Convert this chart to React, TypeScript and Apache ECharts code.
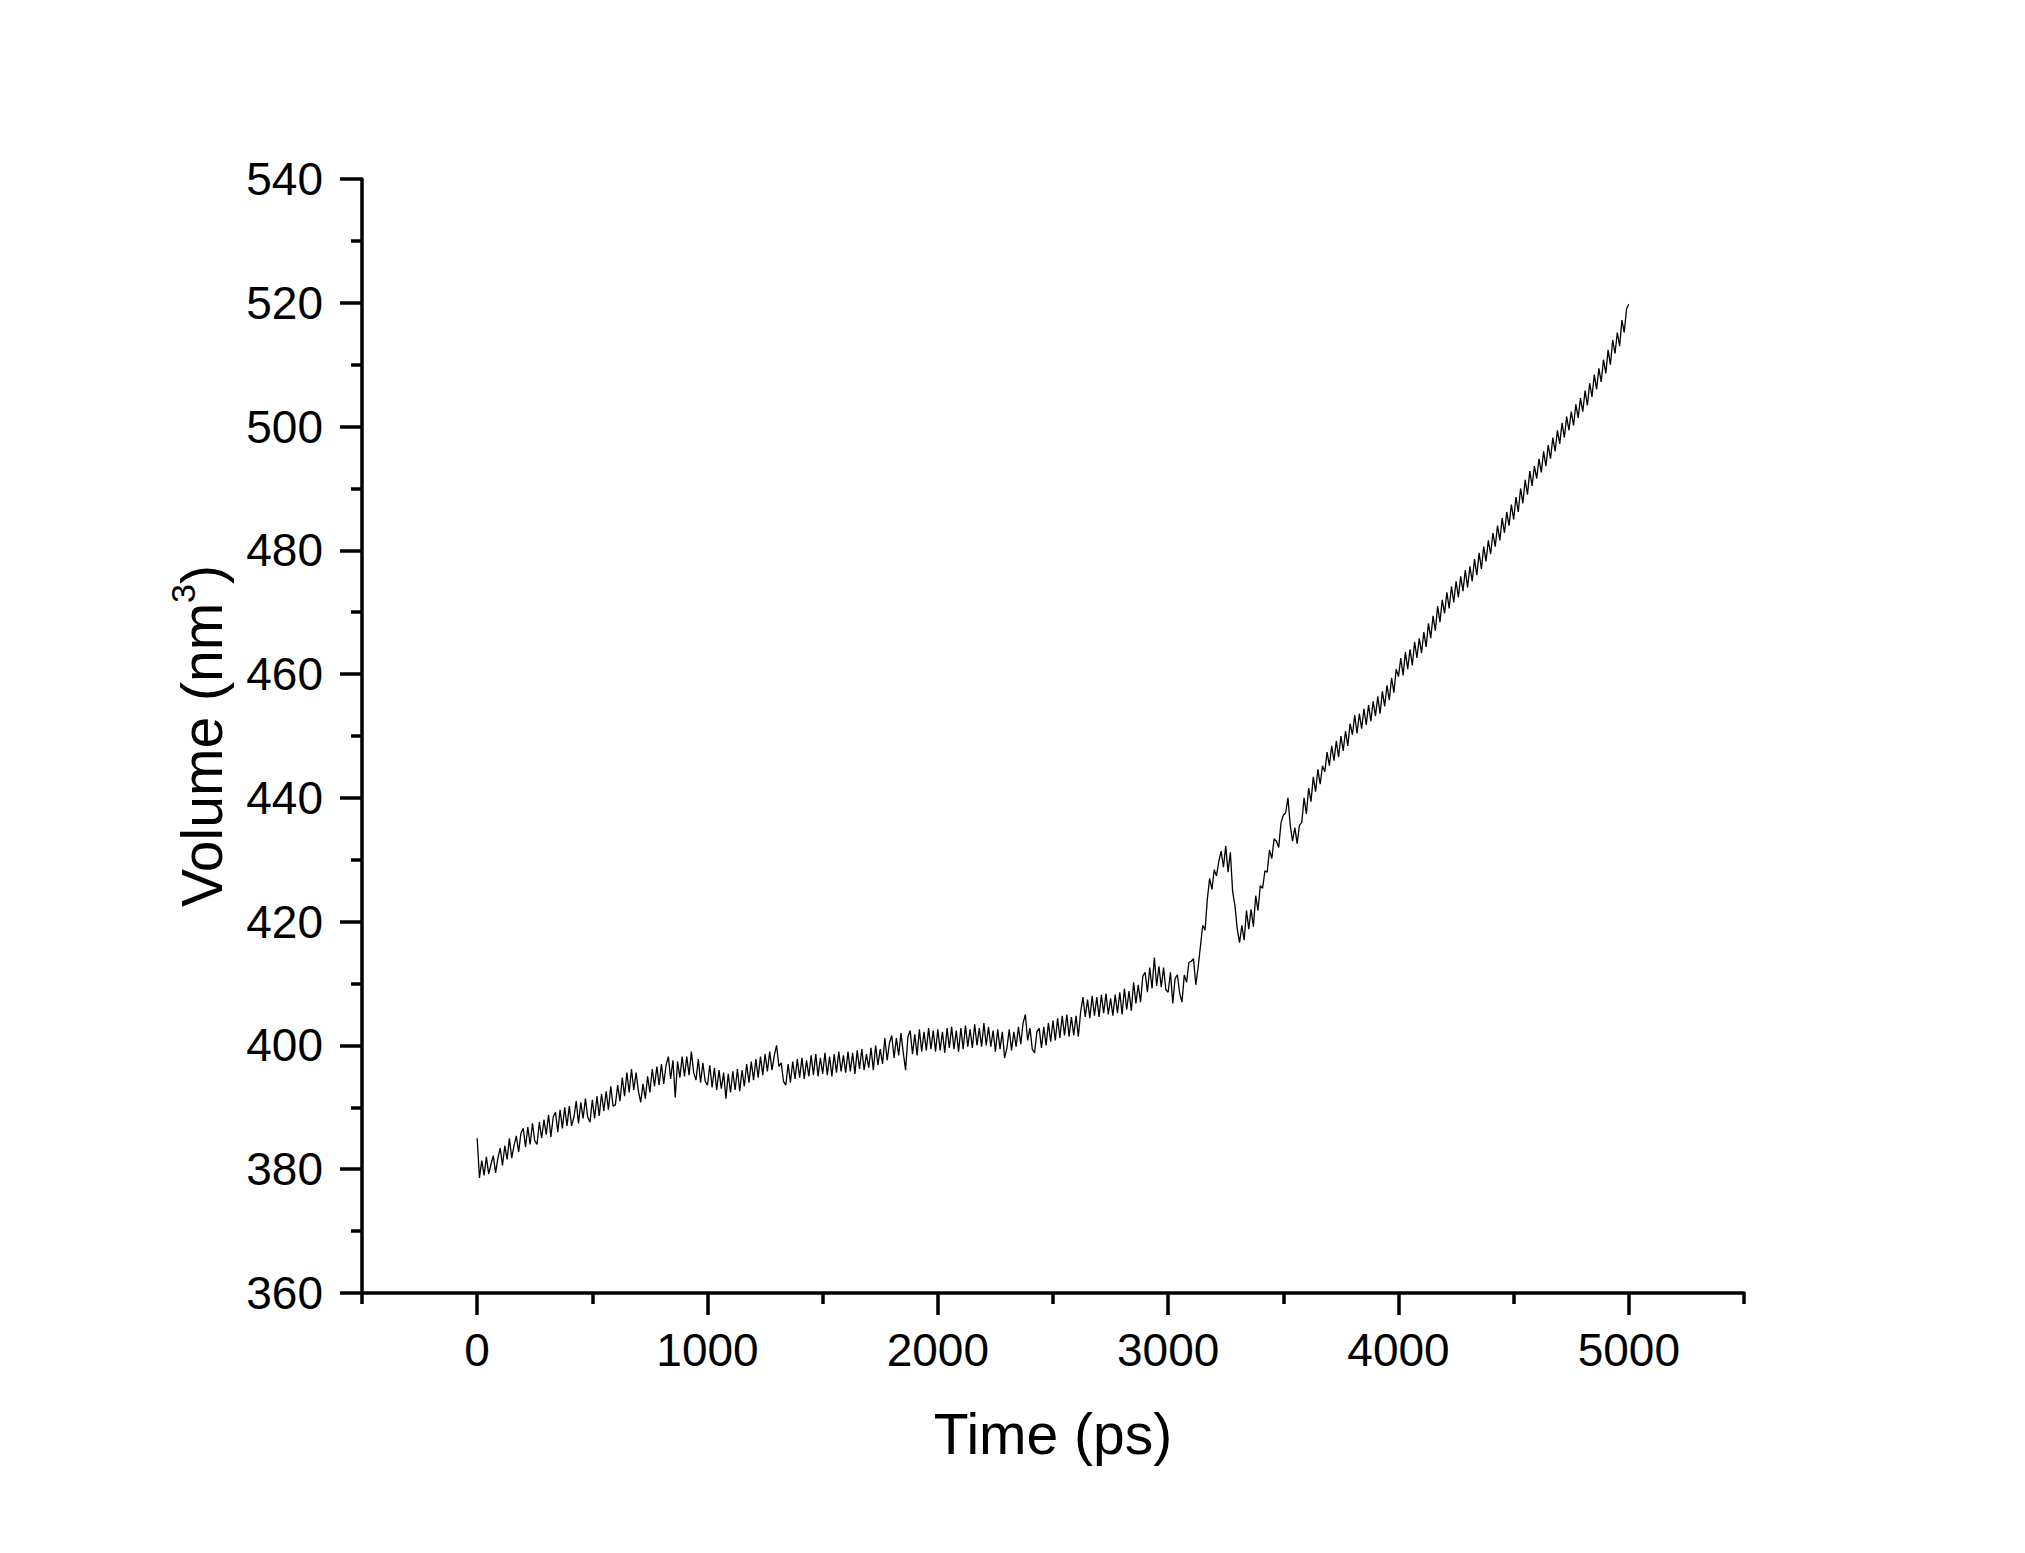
import React, { useEffect, useRef } from "react";
import * as echarts from "echarts";

// Sampling interval of the trajectory (ps)
const TIME_STEP_PS = 10;

// Box volume (nm^3), one value every 10 ps from 0 to 5000 ps
// (each row = 100 ps)
const volumes = [
  385.0, 378.6, 381.4, 379.0, 382.0, 379.2, 380.8, 382.2, 379.4, 381.8,
  383.4, 380.6, 383.8, 381.6, 385.0, 381.8, 383.8, 385.4, 382.8, 385.8,
  386.6, 383.6, 386.8, 384.0, 387.4, 384.6, 384.0, 387.6, 385.0, 388.0,
  385.6, 388.8, 385.2, 388.4, 389.2, 386.0, 389.6, 386.6, 390.0, 387.0,
  390.2, 387.0, 388.4, 391.0, 387.4, 390.8, 388.2, 391.4, 388.4, 387.6,
  391.2, 388.2, 391.8, 388.6, 392.2, 389.4, 392.6, 389.6, 393.4, 390.2,
  390.4, 393.6, 391.0, 394.8, 391.8, 395.6, 392.4, 396.2, 392.8, 395.6,
  392.6, 390.8, 393.8, 391.4, 395.0, 392.4, 396.2, 393.4, 396.6, 393.6,
  397.0, 393.8, 396.8, 398.2, 394.6, 397.6, 391.6, 397.4, 394.8, 398.2,
  395.0, 398.2, 395.2, 399.0, 395.6, 394.4, 397.8, 394.0, 397.2, 394.2,
  393.6, 396.8, 393.2, 396.4, 392.8, 396.0, 393.0, 395.6, 391.4, 395.4,
  392.4, 395.8, 392.8, 396.2, 392.6, 396.0, 393.4, 397.0, 394.0, 397.4,
  394.4, 397.8, 394.8, 398.2, 395.2, 398.6, 395.8, 399.0, 396.0, 398.4,
  400.0, 396.6, 397.2, 394.2, 393.6, 397.0, 394.0, 397.4, 394.6, 397.8,
  394.8, 398.0, 394.6, 397.6, 395.0, 398.4, 395.2, 398.6, 395.0, 398.0,
  395.4, 398.8, 395.2, 398.2, 395.0, 398.6, 395.6, 399.0, 395.8, 398.4,
  395.6, 399.0, 395.8, 398.8, 395.4, 399.2, 396.2, 399.4, 396.0, 398.6,
  396.4, 399.6, 396.0, 400.0, 396.8, 399.4, 397.0, 401.2, 397.6, 400.4,
  401.6, 398.0, 401.2, 398.4, 402.0, 398.8, 396.0, 401.4, 402.4, 398.6,
  401.8, 398.4, 402.6, 399.0, 402.2, 399.2, 402.8, 399.4, 402.4, 399.0,
  402.6, 399.2, 402.2, 398.8, 402.8, 399.6, 403.0, 399.4, 402.4, 399.0,
  402.8, 399.4, 403.2, 399.8, 402.6, 399.6, 403.4, 400.0, 402.8, 399.8,
  403.6, 400.0, 403.0, 399.8, 402.4, 399.0, 402.6, 399.4, 402.2, 398.0,
  399.6, 402.6, 399.2, 402.2, 399.8, 403.0, 400.2, 403.6, 405.0, 400.8,
  402.8, 399.4, 398.8, 402.2, 402.8, 399.6, 403.0, 400.0, 403.6, 400.6,
  404.0, 400.8, 404.4, 401.2, 404.8, 401.6, 405.0, 401.4, 404.6, 401.6,
  404.8, 401.4, 405.4, 407.8, 404.6, 407.4, 404.4, 408.0, 404.8, 407.8,
  404.6, 408.2, 405.2, 408.4, 405.0, 407.6, 404.8, 408.2, 405.2, 408.6,
  405.0, 409.2, 405.8, 408.8, 405.6, 410.2, 406.8, 409.8, 407.0, 411.2,
  411.8, 408.6, 412.6, 409.2, 414.2, 409.6, 412.8, 409.4, 412.6, 409.0,
  408.6, 411.8, 406.8, 410.8, 411.4, 408.4, 407.0, 411.4, 410.2, 413.4,
  413.6, 414.0, 409.8, 412.6, 416.0, 419.4, 418.6, 423.6, 427.0, 425.2,
  428.4, 427.4, 429.8, 431.4, 428.8, 432.2, 428.0, 431.2, 424.8, 422.6,
  418.8, 416.6, 419.4, 417.0, 421.8, 418.8, 422.0, 419.2, 424.2, 421.8,
  425.8, 425.4, 428.2, 428.0, 431.6, 430.2, 433.4, 433.0, 432.0, 436.0,
  437.2, 437.6, 440.0, 435.6, 433.0, 435.2, 432.6, 435.6, 436.0, 440.0,
  437.4, 441.6, 439.4, 443.4, 441.0, 444.6, 442.2, 445.2, 444.2, 447.4,
  445.2, 448.4, 446.0, 449.2, 446.6, 450.0, 447.6, 450.8, 448.4, 452.0,
  450.2, 453.4, 450.4, 453.6, 451.2, 454.4, 451.8, 455.0, 452.4, 455.6,
  453.2, 456.4, 453.6, 457.2, 454.8, 458.2, 455.8, 459.4, 457.0, 460.8,
  459.6, 462.6, 459.8, 463.6, 460.8, 464.0, 461.4, 465.2, 462.6, 465.8,
  463.4, 466.8, 464.4, 468.2, 465.8, 469.4, 467.0, 471.0, 468.4, 472.0,
  469.8, 473.2, 470.6, 474.2, 471.6, 475.0, 472.4, 475.8, 473.4, 476.8,
  474.0, 477.4, 475.0, 478.6, 476.0, 479.6, 477.0, 480.6, 478.2, 481.6,
  479.4, 482.8, 480.6, 484.0, 481.6, 485.2, 482.8, 486.2, 484.0, 487.4,
  485.0, 488.6, 486.2, 490.0, 487.6, 491.4, 489.0, 492.8, 490.4, 493.6,
  491.6, 494.8, 492.6, 496.0, 493.6, 497.0, 494.8, 498.2, 496.0, 499.4,
  497.2, 500.6, 498.2, 501.6, 499.4, 502.4, 500.2, 503.6, 501.4, 504.6,
  502.4, 505.8, 503.4, 507.0, 504.8, 508.4, 506.0, 509.4, 507.2, 510.8,
  508.6, 512.4, 510.0, 514.0, 511.8, 515.2, 513.0, 517.2, 515.2, 519.0,
  519.8,
];

const xMajorTicks = [0, 1000, 2000, 3000, 4000, 5000];
const xMinorTicks = [-500, 500, 1500, 2500, 3500, 4500, 5500];
const xRange = [-500, 5500];
const yRange = [360, 540];
const yInterval = 20;

const FONT = "'Liberation Sans', Arial, Helvetica, sans-serif";

export default function App() {
  const ref = useRef<HTMLDivElement>(null);

  useEffect(() => {
    document.body.style.margin = "0";
    const chart = echarts.init(ref.current!, null, { renderer: "svg" });
    const data = volumes.map((v, i) => [i * TIME_STEP_PS, v]);
    const axisColor = "#000";

    chart.setOption({
      animation: false,
      backgroundColor: "#fff",
      grid: { left: 362, right: 281, top: 179, bottom: 260, containLabel: false },
      xAxis: [
        {
          type: "value",
          min: xRange[0],
          max: xRange[1],
          position: "bottom",
          name: "Time (ps)",
          nameLocation: "middle",
          nameGap: 112,
          nameTextStyle: { fontSize: 57, color: axisColor, fontFamily: FONT },
          axisLine: { show: true, onZero: false, lineStyle: { color: axisColor, width: 3.5 } },
          axisTick: {
            show: true,
            customValues: xMajorTicks,
            length: 22,
            lineStyle: { color: axisColor, width: 3.5 },
          },
          axisLabel: {
            customValues: xMajorTicks,
            formatter: (v: number) => String(v),
            margin: 34,
            fontSize: 46,
            color: axisColor,
            fontFamily: FONT,
          },
          splitLine: { show: false },
        },
        {
          type: "value",
          min: xRange[0],
          max: xRange[1],
          position: "bottom",
          axisLine: { show: false, onZero: false },
          axisTick: {
            show: true,
            customValues: xMinorTicks,
            length: 11,
            lineStyle: { color: axisColor, width: 3.5 },
          },
          axisLabel: { show: false },
          splitLine: { show: false },
        },
      ],
      yAxis: {
        type: "value",
        min: yRange[0],
        max: yRange[1],
        interval: yInterval,
        name: "Volume (nm{sup|3})",
        nameLocation: "middle",
        nameGap: 125,
        nameTextStyle: {
          fontSize: 57,
          color: axisColor,
          fontFamily: FONT,
          rich: {
            sup: { fontSize: 34, color: axisColor, fontFamily: FONT, padding: [0, 0, 37, 0] },
          },
        },
        axisLine: { show: true, onZero: false, lineStyle: { color: axisColor, width: 3.5 } },
        axisTick: { show: true, length: 22, lineStyle: { color: axisColor, width: 3.5 } },
        minorTick: { show: true, splitNumber: 2, length: 11, lineStyle: { color: axisColor, width: 3.5 } },
        axisLabel: { margin: 39, fontSize: 46, color: axisColor, fontFamily: FONT },
        splitLine: { show: false },
        minorSplitLine: { show: false },
      },
      series: [
        {
          type: "line",
          xAxisIndex: 0,
          data,
          showSymbol: false,
          symbol: "none",
          silent: true,
          lineStyle: { color: "#000", width: 1.3 },
        },
      ],
    });

    return () => chart.dispose();
  }, []);

  return <div ref={ref} style={{ width: 2025, height: 1553, background: "#fff" }} />;
}
